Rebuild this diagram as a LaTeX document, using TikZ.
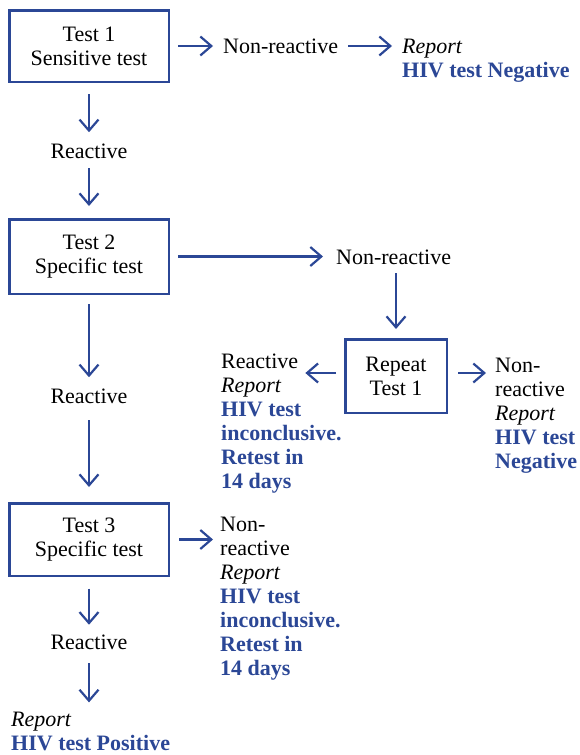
\documentclass[tikz,border=0pt]{standalone}
\usepackage{fontspec}
\setmainfont{Liberation Serif}
\usetikzlibrary{arrows.meta}
\definecolor{hivblue}{RGB}{43,71,150}
\newcommand{\fz}{\fontsize{22}{24}\selectfont}
\newcommand{\blk}[1]{\vtop{\halign{##\hfil\cr#1\crcr}}}
\newcommand{\rep}{\textit{Report}}
\newcommand{\bl}[1]{\textbf{\color{hivblue}#1}}
\begin{document}
\begin{tikzpicture}[x=1pt,y=-1pt,
  box/.style={draw=hivblue, line width=2.5pt, minimum width=159.5pt, align=center, inner sep=0pt, font=\fz},
  txt/.style={inner sep=0pt, font=\fz},
  arr/.style={draw=hivblue, line width=2.2pt, -{Straight Barb[length=11pt,width=19pt]}}]
\useasboundingbox (0,0) rectangle (579,755);
% boxes
\node[box, minimum height=71.5pt] (b1) at (89,46) {Test 1\\Sensitive test};
\node[box, minimum height=74.5pt] (b2) at (89,256.5) {Test 2\\Specific test};
\node[box, minimum height=72.5pt] (b3) at (89,539.5) {Test 3\\Specific test};
\node[box, minimum width=101.5pt, minimum height=73.5pt] (rpt) at (396,376) {Repeat\\Test 1};
% texts
\node[txt, anchor=base west] (nr1) at (223,53) {Non-reactive};
\node[txt, anchor=base west] (rep1) at (402,53) {\blk{\rep\cr\bl{HIV test Negative}}};
\node[txt, anchor=base] (r1) at (89,158) {Reactive};
\node[txt, anchor=base west] (nr2) at (336,264) {Non-reactive};
\node[txt, anchor=base west] (rl) at (221,368) {Reactive};
\node[txt, anchor=base west] (rlrep) at (221,392) {\blk{\rep\cr\bl{HIV test}\cr\bl{inconclusive.}\cr\bl{Retest in}\cr\bl{14 days}}};
\node[txt, anchor=base west] (rr) at (495,372) {\blk{Non-\cr reactive\cr\rep\cr\bl{HIV test}\cr\bl{Negative}}};
\node[txt, anchor=base] (r2) at (89,403) {Reactive};
\node[txt, anchor=base west] (nr3) at (220,531) {\blk{Non-\cr reactive\cr\rep\cr\bl{HIV test}\cr\bl{inconclusive.}\cr\bl{Retest in}\cr\bl{14 days}}};
\node[txt, anchor=base] (r3) at (89,649.5) {Reactive};
\node[txt, anchor=base west] (pos) at (11,726) {\blk{\rep\cr\bl{HIV test Positive}}};
% arrows
\draw[arr, shorten <=8pt, shorten >=10pt] (b1.east) -- (b1.east -| nr1.west);
\draw[arr, shorten <=10pt, shorten >=10pt] (nr1.east |- b1.east) -- (b1.east -| rep1.west);
\draw[arr, shorten <=11pt, shorten >=11pt] (b1.south) -- (r1.north);
\draw[arr, shorten <=10pt, shorten >=12pt] (r1.south) -- (b2.north);
\draw[arr, shorten <=8pt, shorten >=13pt] (b2.east) -- (b2.east -| nr2.west);
\draw[arr, shorten <=9pt, shorten >=9pt] (rpt.north |- nr2.south) -- (rpt.north);
\draw[arr, shorten <=8pt, shorten >=7pt] ([yshift=3pt]rpt.west) -- ([yshift=3pt]rpt.west -| rl.east);
\draw[arr, shorten <=10pt, shorten >=9pt] ([yshift=3pt]rpt.east) -- ([yshift=3pt]rpt.east -| rr.west);
\draw[arr, shorten <=9pt, shorten >=11pt] (b2.south) -- (r2.north);
\draw[arr, shorten <=17pt, shorten >=15pt] (r2.south) -- (b3.north);
\draw[arr, shorten <=9pt, shorten >=7pt] (b3.east) -- (b3.east -| nr3.west);
\draw[arr, shorten <=11.5pt, shorten >=10pt] (b3.south) -- (r3.north);
\draw[arr, shorten <=13.5pt, shorten >=9pt] (r3.south) -- (r3.south |- pos.north);
\end{tikzpicture}
\end{document}
